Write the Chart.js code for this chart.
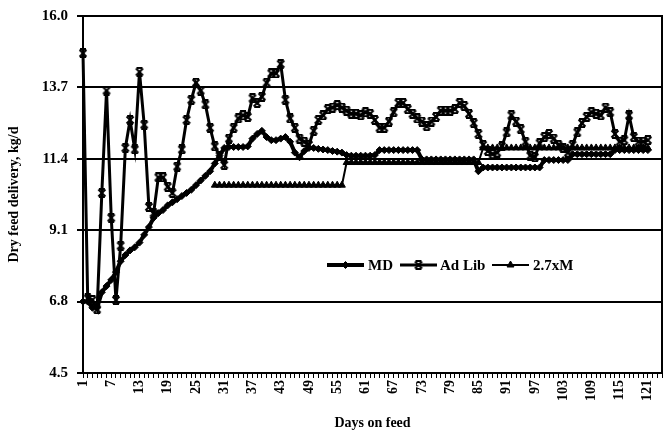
<!DOCTYPE html>
<html>
<head>
<meta charset="utf-8">
<script src="https://cdn.jsdelivr.net/npm/chart.js@4/dist/chart.umd.min.js"></script>
<style>
html,body{margin:0;padding:0;background:#fff;}
#wrap{width:667px;height:436px;position:relative;}
</style>
</head>
<body>
<div id="wrap"><canvas id="c" width="667" height="436"></canvas></div>
<script>
const days = [1,2,3,4,5,6,7,8,9,10,11,12,13,14,15,16,17,18,19,20,21,22,23,24,25,26,27,28,29,30,31,32,33,34,35,36,37,38,39,40,41,42,43,44,45,46,47,48,49,50,51,52,53,54,55,56,57,58,59,60,61,62,63,64,65,66,67,68,69,70,71,72,73,74,75,76,77,78,79,80,81,82,83,84,85,86,87,88,89,90,91,92,93,94,95,96,97,98,99,100,101,102,103,104,105,106,107,108,109,110,111,112,113,114,115,116,117,118,119,120,121,122,123,124];

const yTicks = [4.5, 6.8, 9.1, 11.4, 13.7, 16.0];

const seriesNames = ["MD", "Ad Lib", "2.7xM"];

const md = [6.8,6.8,6.6,6.6,7.1,7.3,7.5,7.75,8.1,8.3,8.45,8.55,8.7,8.95,9.2,9.5,9.65,9.75,9.9,10.0,
 10.1,10.2,10.3,10.4,10.55,10.7,10.85,11.0,11.25,11.5,11.75,11.78,11.78,11.78,11.78,11.8,12.05,12.2,12.3,12.1,
 12.0,12.0,12.05,12.1,11.95,11.6,11.45,11.65,11.75,11.75,11.72,11.7,11.68,11.65,11.63,11.6,11.52,11.5,11.5,11.5,
 11.5,11.5,11.52,11.68,11.68,11.68,11.68,11.68,11.68,11.68,11.68,11.68,11.38,11.38,11.38,11.38,11.38,11.38,11.38,11.38,
 11.38,11.38,11.38,11.38,11.0,11.12,11.12,11.12,11.12,11.12,11.12,11.12,11.12,11.12,11.12,11.12,11.12,11.12,11.36,11.36,
 11.36,11.36,11.36,11.36,11.55,11.55,11.55,11.55,11.55,11.55,11.55,11.55,11.55,11.68,11.68,11.68,11.68,11.68,11.68,11.68,
 11.68];

const adLib = [14.8,6.9,6.85,6.55,10.3,13.6,9.5,6.85,8.6,11.75,12.65,11.7,14.2,12.5,9.85,9.65,10.8,10.8,10.5,10.3,
 11.15,11.7,12.65,13.3,13.85,13.6,13.15,12.4,11.8,11.5,11.2,12.05,12.4,12.7,12.8,12.75,13.35,13.2,13.4,13.85,
 14.15,14.15,14.45,13.3,12.7,12.4,12.05,11.95,11.85,12.3,12.65,12.8,13.0,13.05,13.13,13.05,12.95,12.85,12.85,12.8,
 12.9,12.85,12.65,12.4,12.4,12.6,12.9,13.2,13.2,13.0,12.85,12.7,12.6,12.45,12.6,12.75,12.95,12.95,12.95,13.0,
 13.2,13.1,12.85,12.55,12.2,11.85,11.65,11.55,11.6,11.8,12.25,12.8,12.6,12.35,11.95,11.5,11.45,11.9,12.1,12.2,
 12.05,11.85,11.75,11.6,11.85,12.25,12.55,12.75,12.9,12.85,12.8,13.05,12.9,12.2,11.95,12.0,12.8,12.1,11.95,11.95,
 12.0];

const m27 = [null,null,null,null,null,null,null,null,null,null,null,null,null,null,null,null,null,null,null,null,
 null,null,null,null,null,null,null,null,10.55,10.55,10.55,10.55,10.55,10.55,10.55,10.55,10.55,10.55,10.55,10.55,
 10.55,10.55,10.55,10.55,10.55,10.55,10.55,10.55,10.55,10.55,10.55,10.55,10.55,10.55,10.55,10.55,11.28,11.28,11.28,11.28,
 11.28,11.28,11.28,11.28,11.28,11.28,11.28,11.28,11.28,11.28,11.28,11.28,11.28,11.28,11.28,11.28,11.28,11.28,11.28,11.28,
 11.28,11.28,11.28,11.28,11.28,11.75,11.75,11.75,11.75,11.75,11.75,11.75,11.75,11.75,11.75,11.75,11.75,11.75,11.75,11.75,
 11.75,11.75,11.75,11.75,11.75,11.75,11.75,11.75,11.75,11.75,11.75,11.75,11.75,11.75,11.75,11.75,11.75,11.75,11.75,11.75,
 11.75];

const FONT = "'Liberation Serif', 'Times New Roman', serif";

function makeStar() {
  const c = document.createElement('canvas');
  c.width = 10; c.height = 10;
  const g = c.getContext('2d');
  g.strokeStyle = '#000';
  g.lineWidth = 2;
  g.beginPath();
  g.moveTo(1.5, 1.5); g.lineTo(8.5, 8.5);
  g.moveTo(8.5, 1.5); g.lineTo(1.5, 8.5);
  g.moveTo(2, 1); g.lineTo(8, 1);
  g.moveTo(2, 9); g.lineTo(8, 9);
  g.stroke();
  return c;
}
const starImg = makeStar();

const framePlugin = {
  id: 'frame',
  beforeDatasetsDraw(chart) {
    const a = chart.chartArea, ctx = chart.ctx;
    ctx.save();
    ctx.strokeStyle = '#000';
    ctx.lineWidth = 2;
    ctx.strokeRect(a.left, a.top, a.right - a.left, a.bottom - a.top);
    ctx.restore();
  }
};

const legendPlugin = {
  id: 'insideLegend',
  afterDatasetsDraw(chart) {
    const ctx = chart.ctx;
    const y = 265;
    const items = [
      {x: 327, tx: 368, ds: 0},
      {x: 400, tx: 440, ds: 1},
      {x: 492, tx: 533, ds: 2}
    ];
    ctx.save();
    items.forEach(it => {
      const ds = chart.data.datasets[it.ds];
      ctx.strokeStyle = '#000';
      ctx.lineWidth = ds.borderWidth;
      ctx.beginPath();
      ctx.moveTo(it.x, y);
      ctx.lineTo(it.x + 37, y);
      ctx.stroke();
      ctx.fillStyle = ds.pointBackgroundColor;
      ctx.strokeStyle = ds.pointBorderColor;
      ctx.lineWidth = ds.pointBorderWidth;
      Chart.helpers.drawPoint(ctx, {
        pointStyle: ds.pointStyle,
        radius: ds.pointRadius,
        borderWidth: ds.pointBorderWidth,
        rotation: 0
      }, it.x + 18.5, y);
      ctx.fillStyle = '#000';
      ctx.font = "bold 15px " + FONT;
      ctx.textBaseline = 'middle';
      ctx.textAlign = 'left';
      ctx.fillText(ds.label, it.tx, y + 1);
    });
    ctx.restore();
  }
};

new Chart(document.getElementById('c'), {
  type: 'line',
  data: {
    labels: days,
    datasets: [
      {
        label: seriesNames[0], data: md,
        borderColor: '#000', borderWidth: 4,
        pointStyle: 'rectRot', pointRadius: 3.5, pointBorderWidth: 1,
        pointBackgroundColor: '#000', pointBorderColor: '#000',
        tension: 0, spanGaps: false
      },
      {
        label: seriesNames[1], data: adLib,
        borderColor: '#000', borderWidth: 3,
        pointStyle: starImg, pointRadius: 4, pointBorderWidth: 1,
        pointBackgroundColor: '#000', pointBorderColor: '#000',
        tension: 0, spanGaps: false
      },
      {
        label: seriesNames[2], data: m27,
        borderColor: '#000', borderWidth: 2,
        pointStyle: 'triangle', pointRadius: 4, pointBorderWidth: 1,
        pointBackgroundColor: '#000', pointBorderColor: '#000',
        tension: 0, spanGaps: false
      }
    ]
  },
  options: {
    responsive: false,
    animation: false,
    layout: { padding: { left: 0, right: 4, top: 16, bottom: 0 } },
    plugins: {
      legend: { display: false },
      tooltip: { enabled: false }
    },
    scales: {
      x: {
        type: 'category',
        offset: false,
        border: { display: true, color: '#000', width: 2 },
        grid: { display: true, drawOnChartArea: false, drawTicks: true, tickLength: 5, color: '#000', lineWidth: 1 },
        ticks: {
          autoSkip: false, maxRotation: 90, minRotation: 90, padding: 2,
          color: '#000', font: { family: FONT, size: 14, weight: 'bold' },
          callback: (v, i) => (i % 6 === 0 ? String(days[i]) : '')
        },
        title: { display: true, text: 'Days on feed', color: '#000',
          font: { family: FONT, size: 14, weight: 'bold' }, padding: { top: 0, bottom: 4 } },
        afterFit: s => { s.height = 63; s.paddingLeft = 0; s.paddingRight = 0; }
      },
      y: {
        min: 4.5, max: 16.0,
        border: { display: true, color: '#000', width: 2 },
        grid: { display: true, color: '#000', lineWidth: 2, tickLength: 6, drawTicks: true },
        afterBuildTicks: ax => { ax.ticks = yTicks.map(v => ({ value: v })); },
        ticks: {
          padding: 9, color: '#000',
          font: { family: FONT, size: 15, weight: 'bold' },
          callback: v => Number(v).toFixed(1)
        },
        title: { display: true, text: 'Dry feed delivery, kg/d', color: '#000',
          font: { family: FONT, size: 14, weight: 'bold' }, padding: { top: 6, bottom: 4 } },
        afterFit: s => { s.width = 83; s.paddingTop = 0; s.paddingBottom = 0; }
      }
    }
  },
  plugins: [framePlugin, legendPlugin]
});
</script>
</body>
</html>
